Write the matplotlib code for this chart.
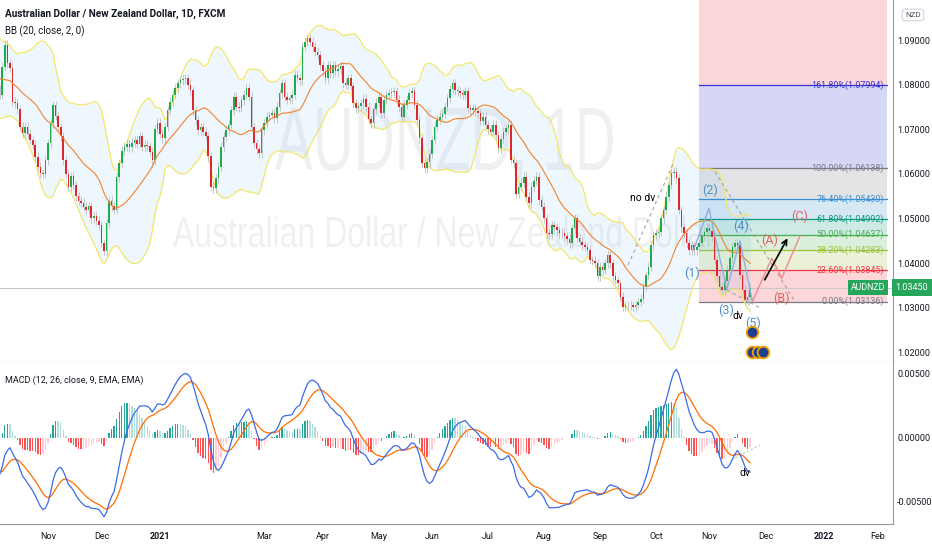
import numpy as np
import pandas as pd
import matplotlib
matplotlib.use("Agg")
import matplotlib.pyplot as plt
from matplotlib.textpath import TextPath
from matplotlib.font_manager import FontProperties
from matplotlib.patches import PathPatch
from matplotlib.transforms import Affine2D

FONT = ["Liberation Sans Narrow", "Roboto", "DejaVu Sans"]
plt.rcParams["font.family"] = FONT

# --- data ---
START = "2020-10-06"

# hidden closes before the first visible bar, only so BB / MACD are defined at the left edge
WARMUP = [
    1.0675, 1.0695, 1.0715, 1.0725, 1.0715, 1.0735, 1.0755, 1.0745, 1.0765, 1.0785,
    1.0775, 1.0795, 1.0815, 1.0805, 1.0825, 1.0845, 1.0835, 1.0855, 1.0875, 1.0865,
    1.0885, 1.0905, 1.0895, 1.0915, 1.0935, 1.0925, 1.0945, 1.0965, 1.0955, 1.0970,
    1.0980, 1.0965, 1.0970, 1.0950, 1.0955, 1.0935, 1.0925, 1.0940, 1.0925, 1.0905,
    1.0890, 1.0880, 1.0900, 1.0870, 1.0860, 1.0880, 1.0850, 1.0840, 1.0830, 1.0820,
    1.0800, 1.0790, 1.0770, 1.0760, 1.0750, 1.0765, 1.0780, 1.0790, 1.0775, 1.0790,
]

CLOSES = [
    1.0777, 1.0840, 1.0890, 1.0848, 1.0838, 1.0762, 1.0758, 1.0745, 1.0706, 1.0691,
    1.0706, 1.0690, 1.0676, 1.0665, 1.0638, 1.0616, 1.0601, 1.0600, 1.0631, 1.0669,
    1.0713, 1.0754, 1.0730, 1.0706, 1.0684, 1.0631, 1.0600, 1.0571, 1.0595, 1.0575,
    1.0550, 1.0540, 1.0535, 1.0526, 1.0520, 1.0528, 1.0500, 1.0506, 1.0495, 1.0485,
    1.0445, 1.0428, 1.0489, 1.0540, 1.0527, 1.0519, 1.0594, 1.0624, 1.0652, 1.0661,
    1.0666, 1.0660, 1.0670, 1.0676, 1.0668, 1.0684, 1.0661, 1.0665, 1.0662, 1.0650,
    1.0631, 1.0700, 1.0715, 1.0690, 1.0680, 1.0706, 1.0743, 1.0762, 1.0777, 1.0792,
    1.0803, 1.0810, 1.0812, 1.0815, 1.0800, 1.0788, 1.0743, 1.0720, 1.0698, 1.0705,
    1.0695, 1.0685, 1.0639, 1.0571, 1.0568, 1.0590, 1.0616, 1.0661, 1.0683, 1.0698,
    1.0710, 1.0743, 1.0773, 1.0751, 1.0748, 1.0765, 1.0777, 1.0792, 1.0773, 1.0706,
    1.0669, 1.0655, 1.0646, 1.0698, 1.0713, 1.0728, 1.0732, 1.0736, 1.0725, 1.0751,
    1.0781, 1.0803, 1.0773, 1.0766, 1.0770, 1.0777, 1.0822, 1.0815, 1.0810, 1.0885,
    1.0896, 1.0904, 1.0896, 1.0885, 1.0874, 1.0866, 1.0844, 1.0830, 1.0814, 1.0844,
    1.0826, 1.0844, 1.0830, 1.0835, 1.0841, 1.0803, 1.0800, 1.0815, 1.0796, 1.0758,
    1.0747, 1.0752, 1.0758, 1.0769, 1.0751, 1.0722, 1.0714, 1.0745, 1.0760, 1.0773,
    1.0736, 1.0766, 1.0778, 1.0781, 1.0783, 1.0785, 1.0766, 1.0751, 1.0728, 1.0755,
    1.0766, 1.0781, 1.0785, 1.0755, 1.0721, 1.0680, 1.0624, 1.0613, 1.0626, 1.0645,
    1.0676, 1.0706, 1.0721, 1.0728, 1.0735, 1.0751, 1.0770, 1.0790, 1.0803, 1.0788,
    1.0785, 1.0781, 1.0778, 1.0785, 1.0747, 1.0743, 1.0747, 1.0740, 1.0736, 1.0719,
    1.0728, 1.0710, 1.0700, 1.0695, 1.0710, 1.0687, 1.0657, 1.0679, 1.0695, 1.0702,
    1.0710, 1.0632, 1.0624, 1.0556, 1.0571, 1.0580, 1.0594, 1.0549, 1.0534, 1.0571,
    1.0585, 1.0594, 1.0541, 1.0526, 1.0500, 1.0467, 1.0465, 1.0485, 1.0480, 1.0474,
    1.0467, 1.0468, 1.0460, 1.0455, 1.0444, 1.0478, 1.0500, 1.0456, 1.0448, 1.0440,
    1.0436, 1.0429, 1.0407, 1.0405, 1.0400, 1.0370, 1.0392, 1.0385, 1.0400, 1.0418,
    1.0400, 1.0370, 1.0362, 1.0355, 1.0325, 1.0302, 1.0305, 1.0306, 1.0305, 1.0302,
    1.0307, 1.0313, 1.0320, 1.0347, 1.0373, 1.0392, 1.0440, 1.0462, 1.0467, 1.0470,
    1.0500, 1.0519, 1.0549, 1.0575, 1.0601, 1.0605, 1.0590, 1.0519, 1.0480, 1.0467,
    1.0444, 1.0429, 1.0440, 1.0429, 1.0436, 1.0445, 1.0460, 1.0470, 1.0479, 1.0472,
    1.0459, 1.0407, 1.0370, 1.0347, 1.0340, 1.0360, 1.0385, 1.0411, 1.0437, 1.0445,
    1.0440, 1.0373, 1.0340, 1.0317, 1.0325, 1.0345,
]
LAST_PRICE = 1.03450

MONTH_TICKS = ["2020-11", "2020-12", "2021-01", "2021-03", "2021-04", "2021-05", "2021-06",
               "2021-07", "2021-08", "2021-09", "2021-10", "2021-11", "2021-12", "2022-01", "2022-02"]
MONTH_LABELS = ["Nov", "Dec", "2021", "Mar", "Apr", "May", "Jun", "Jul", "Aug", "Sep",
                "Oct", "Nov", "Dec", "2022", "Feb"]

FIB_NAMES = ["0.00%", "23.60%", "38.20%", "50.00%", "61.80%", "76.40%", "100.00%", "161.80%"]
FIB_PRICES = [1.03136, 1.03845, 1.04283, 1.04637, 1.04992, 1.05430, 1.06138, 1.07994]
FIB_TOP_COLOR = "#f23645"
FIB_COLORS = ["#787b86", "#f23645", "#9cc23a", "#4caf50", "#089981", "#3a8fd0", "#787b86", "#3535d0"]
FIB_X = (274.9, 348.8)

# hand-drawn Elliott wave annotations (bar index, price)
WAVE_X = [272.7, 278.8, 285.8, 291.0, 295.9]
WAVE_Y = [1.0429, 1.0523, 1.0340, 1.0450, 1.0314]
WAVE_LABELS = ["(1)", "(2)", "(3)", "(4)", "(5)"]
WAVE_LABEL_XY = [(272.0, 1.0378), (279.2, 1.0564), (285.6, 1.0295), (291.3, 1.0483), (296.1, 1.0264)]
ABC_X = [295.9, 303.5, 307.4, 314.6]
ABC_Y = [1.0314, 1.0411, 1.0366, 1.0461]
ABC_LABELS = ["(A)", "(B)", "(C)"]
ABC_LABEL_XY = [(302.8, 1.0450), (307.4, 1.0321), (314.6, 1.0504)]
ARROW = [(300.2, 1.0357), (310.2, 1.0461)]
DASHED = [
    [(247.0, 1.03957), (264.8, 1.06238)],
    [(281.2, 1.06049), (312.6, 1.03135)],
    [(285.8, 1.03397), (299.7, 1.02970)],
]
MACD_DOTTED = [(287.5, -0.00175), (298.9, -0.00057)]
FLAGS_X = [295.6, 295.6, 298.0, 299.9]
FLAGS_Y = [1.0246, 1.0201, 1.0201, 1.0201]

# --- indicators ---
allc = pd.Series(WARMUP + CLOSES, dtype=float)
n0 = len(WARMUP)
basis = allc.rolling(20).mean()
dev = allc.rolling(20).std(ddof=0)
upper = (basis + 2 * dev).iloc[n0:].to_numpy()
lower = (basis - 2 * dev).iloc[n0:].to_numpy()
basis = basis.iloc[n0:].to_numpy()
macd_full = allc.ewm(span=12, adjust=False).mean() - allc.ewm(span=26, adjust=False).mean()
signal_full = macd_full.ewm(span=9, adjust=False).mean()
macd = macd_full.iloc[n0:].to_numpy()
signal = signal_full.iloc[n0:].to_numpy()
hist = macd - signal
hist_prev = (macd_full - signal_full).shift(1).iloc[n0:].to_numpy()

closes = np.array(CLOSES)
opens = np.r_[WARMUP[-1], closes[:-1]]
idx = np.arange(len(closes))
WICK = 0.0010

dates = pd.bdate_range(START, "2022-03-01")
tick_idx = [int(np.searchsorted(dates, pd.Timestamp(m + "-01"))) for m in MONTH_TICKS]

# --- figure ---
W, H = 932, 550
fig = plt.figure(figsize=(W / 100, H / 100), dpi=100)
fig.patch.set_facecolor("white")
ax = fig.add_axes([0, 1 - 362 / H, 893 / W, 362 / H])
ax2 = fig.add_axes([0, 1 - 524 / H, 893 / W, 162 / H], sharex=ax)

XLIM = (0.13, 351.15)
ax.set_xlim(*XLIM)
ax.set_ylim(1.01782, 1.09899)
ax2.set_ylim(-0.00677, 0.00594)


def watermark(text, x0, x1, y_top, y_base, color):
    prop = FontProperties(family="Liberation Sans")
    tp = TextPath((0, 0), text, size=100, prop=prop)
    ext = tp.get_extents()
    cap = TextPath((0, 0), "D", size=100, prop=prop).get_extents().height
    tr = (Affine2D().translate(-ext.x0, 0)
          .scale((x1 - x0) / ext.width, (y_base - y_top) / cap)
          .translate(x0, H - y_base))
    ax.add_patch(PathPatch(tp, transform=tr, facecolor=color, edgecolor="none", zorder=0.3))


watermark("AUDNZD, 1D", 275, 613, 108, 170, "#f0f0f2")
watermark("Australian Dollar / New Zealand Dollar", 173, 715, 217, 247, "#f0f0f2")

# fib retracement
fx0, fx1 = FIB_X
tops = FIB_PRICES[1:] + [ax.get_ylim()[1]]
band_colors = FIB_COLORS[1:] + [FIB_TOP_COLOR]
for lo, hi, col in zip(FIB_PRICES, tops, band_colors):
    ax.fill_between([fx0, fx1], lo, hi, color=col, alpha=0.2, lw=0, zorder=0.4)
for name, price, col in zip(FIB_NAMES, FIB_PRICES, FIB_COLORS):
    ax.plot([fx0, fx1], [price, price], color=col, lw=0.9, zorder=0.6)
    ax.text(fx1 - 1.2, price, f"{name}({price:.5f})", color=col, fontsize=6.4,
            ha="right", va="center", zorder=0.7)

# Bollinger Bands
ax.fill_between(idx, lower, upper, color="#2196f3", alpha=0.07, lw=0, zorder=1)
ax.plot(idx, upper, color="#f3e66a", lw=0.9, zorder=1.2)
ax.plot(idx, lower, color="#f3e66a", lw=0.9, zorder=1.2)
ax.plot(idx, basis, color="#f4822a", lw=0.8, zorder=3)

# last price line
ax.axhline(LAST_PRICE, color="#c9c9c9", lw=0.8, zorder=1.1)

# candles
up = closes >= opens
body_lo = np.minimum(opens, closes)
body_h = np.maximum(np.abs(closes - opens), 0.00008)
ax.vlines(idx, body_lo - WICK, body_lo + body_h + WICK, color="#bdbdbd", lw=0.6, zorder=2)
ax.bar(idx, body_h, bottom=body_lo, width=0.62,
       color=np.where(up, "#1faa4b", "#e0262d"), lw=0, zorder=2.5)

# drawings
for (xa, ya), (xb, yb) in DASHED:
    ax.plot([xa, xb], [ya, yb], color="#a3a3a3", lw=0.8, ls=(0, (3, 3)), zorder=4)
ax.plot(WAVE_X, WAVE_Y, color="#8fb0dc", lw=1.0, zorder=4)
for lab, (tx, ty) in zip(WAVE_LABELS, WAVE_LABEL_XY):
    ax.text(tx, ty, lab, color="#4f8cc9", fontsize=9, ha="center", va="center", zorder=5)
ax.plot(ABC_X, ABC_Y, color="#f08a8a", lw=1.0, zorder=4)
for lab, (tx, ty) in zip(ABC_LABELS, ABC_LABEL_XY):
    ax.text(tx, ty, lab, color="#e26060", fontsize=9, ha="center", va="center", zorder=5)
ax.annotate("", xy=ARROW[1], xytext=ARROW[0],
            arrowprops=dict(arrowstyle="->", color="black", lw=1.2, mutation_scale=9), zorder=5)
ax.text(252.9, 1.0546, "no dv", fontsize=7.5, ha="center", va="center", color="black", zorder=5)
ax.text(290.3, 1.0281, "dv", fontsize=7.5, ha="center", va="center", color="black", zorder=5)
ax.scatter(FLAGS_X, FLAGS_Y, s=70, facecolor="#1e3f8f", edgecolor="#f5a000", lw=1.3, zorder=6)

# MACD pane
hcol = np.where(hist >= 0,
                np.where(hist >= hist_prev, "#26a69a", "#b2dfdb"),
                np.where(hist < hist_prev, "#ff5252", "#ffcdd2"))
ax2.bar(idx, hist, width=0.55, color=hcol, lw=0, zorder=1)
ax2.plot(idx, macd, color="#3d6be6", lw=0.9, zorder=3)
ax2.plot(idx, signal, color="#ff6d00", lw=0.9, zorder=2)
ax2.plot(*zip(*MACD_DOTTED), color="#a5d6a7", lw=0.8, ls=(0, (2, 2)), zorder=2)
ax2.text(293, -0.00277, "dv", fontsize=7.5, ha="center", va="center", color="black", zorder=5)

# axes styling
for a in (ax, ax2):
    a.set_facecolor("white")
    a.yaxis.tick_right()
    a.tick_params(axis="y", length=0, pad=3, labelsize=6.5, labelcolor="#131722")
    for s in ("top", "left"):
        a.spines[s].set_visible(False)
    a.spines["right"].set_color("#9598a1")
    a.spines["bottom"].set_color("#9598a1")
ax.set_yticks([1.02, 1.03, 1.04, 1.05, 1.06, 1.07, 1.08, 1.09])
ax.set_yticklabels([f"{v:.5f}" for v in ax.get_yticks()])
ax.tick_params(axis="x", length=0, labelbottom=False)
ax2.set_yticks([-0.005, 0.0, 0.005])
ax2.set_yticklabels([f"{v:.5f}" for v in ax2.get_yticks()])
ax2.set_xticks(tick_idx)
ax2.set_xticklabels(MONTH_LABELS)
ax2.tick_params(axis="x", length=0, pad=6, labelsize=6.5, labelcolor="#131722")
for lab in ax2.get_xticklabels():
    if lab.get_text().isdigit():
        lab.set_fontweight("bold")
ax2.set_xlim(*XLIM)

# header texts
fig.text(5 / W, 1 - 14 / H, "Australian Dollar / New Zealand Dollar, 1D, FXCM",
         fontsize=7.2, fontweight="bold", color="#131722", va="center")
fig.text(5 / W, 1 - 31 / H, "BB (20, close, 2, 0)", fontsize=7, color="#131722", va="center")
fig.text(5 / W, 1 - 380 / H, "MACD (12, 26, close, 9, EMA, EMA)", fontsize=6.5,
         color="#131722", va="center")
fig.text(913 / W, 1 - 15 / H, "NZD", fontsize=5.8, color="#50535e", ha="center", va="center",
         bbox=dict(boxstyle="round,pad=0.35", fc="white", ec="#d1d4dc", lw=0.8))

# last price labels
fig.text(868 / W, 1 - 287.6 / H, "AUDNZD", fontsize=6.3, color="white", ha="center", va="center",
         bbox=dict(boxstyle="square,pad=0.35", fc="#26a65b", ec="none"))
fig.text(912 / W, 1 - 287.6 / H, f"{LAST_PRICE:.5f}", fontsize=6.5, color="white", ha="center",
         va="center", bbox=dict(boxstyle="square,pad=0.4", fc="#26a65b", ec="none"))

fig.savefig("out.png", dpi=100)
